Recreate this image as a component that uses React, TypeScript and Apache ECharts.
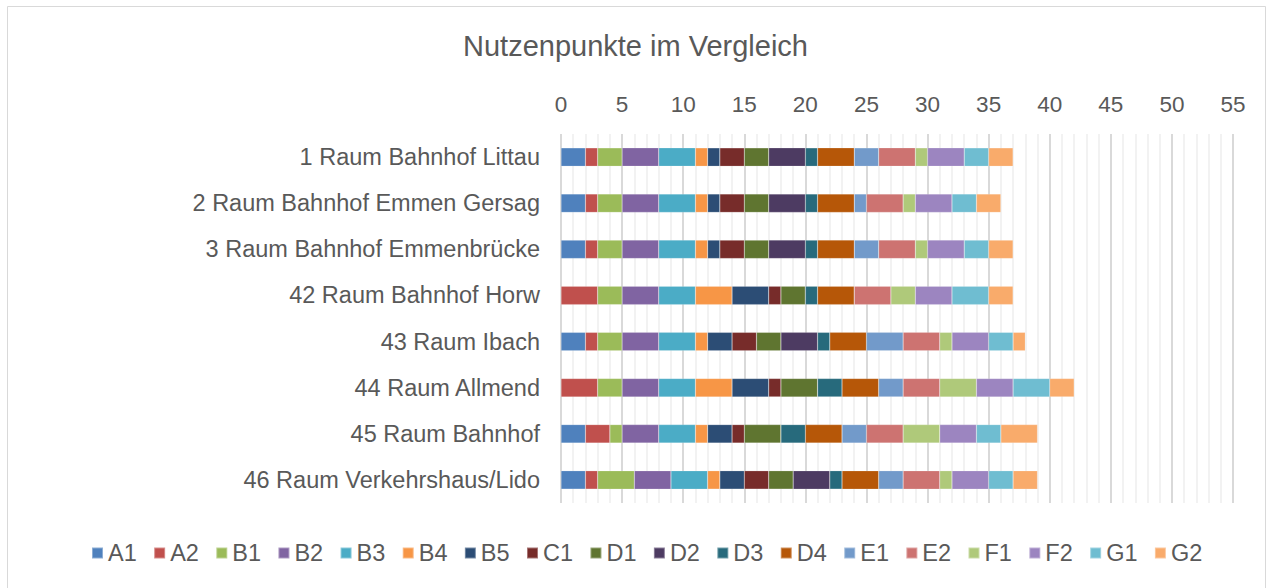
import React, { useEffect, useRef } from "react";
import * as echarts from "echarts";

const categories = [
  "1 Raum Bahnhof Littau",
  "2 Raum Bahnhof Emmen Gersag",
  "3 Raum Bahnhof Emmenbrücke",
  "42 Raum Bahnhof Horw",
  "43 Raum Ibach",
  "44 Raum Allmend",
  "45 Raum Bahnhof",
  "46 Raum Verkehrshaus/Lido",
];

const seriesNames = ["A1", "A2", "B1", "B2", "B3", "B4", "B5", "C1", "D1", "D2", "D3", "D4", "E1", "E2", "F1", "F2", "G1", "G2"];

const A1 = [2, 2, 2, 0, 2, 0, 2, 2];
const A2 = [1, 1, 1, 3, 1, 3, 2, 1];
const B1 = [2, 2, 2, 2, 2, 2, 1, 3];
const B2 = [3, 3, 3, 3, 3, 3, 3, 3];
const B3 = [3, 3, 3, 3, 3, 3, 3, 3];
const B4 = [1, 1, 1, 3, 1, 3, 1, 1];
const B5 = [1, 1, 1, 3, 2, 3, 2, 2];
const C1 = [2, 2, 2, 1, 2, 1, 1, 2];
const D1 = [2, 2, 2, 2, 2, 3, 3, 2];
const D2 = [3, 3, 3, 0, 3, 0, 0, 3];
const D3 = [1, 1, 1, 1, 1, 2, 2, 1];
const D4 = [3, 3, 3, 3, 3, 3, 3, 3];
const E1 = [2, 1, 2, 0, 3, 2, 2, 2];
const E2 = [3, 3, 3, 3, 3, 3, 3, 3];
const F1 = [1, 1, 1, 2, 1, 3, 3, 1];
const F2 = [3, 3, 3, 3, 3, 3, 3, 3];
const G1 = [2, 2, 2, 3, 2, 3, 2, 2];
const G2 = [2, 2, 2, 2, 1, 2, 3, 2];

const seriesValues = [A1, A2, B1, B2, B3, B4, B5, C1, D1, D2, D3, D4, E1, E2, F1, F2, G1, G2];

const colors = [
  "#4F81BD", "#C0504D", "#9BBB59", "#8064A2", "#4BACC6", "#F79646",
  "#2C4D75", "#772C2A", "#5F7530", "#4D3B62", "#276A7C", "#B65708",
  "#729ACA", "#CD7371", "#AFC97A", "#9C85C0", "#6FBDD1", "#F9AB6B",
];

const FONT = "'Liberation Sans', Arial, sans-serif";
const TEXT = "#595959";

export default function App() {
  const ref = useRef<HTMLDivElement>(null);
  useEffect(() => {
    if (!ref.current) return;
    const chart = echarts.init(ref.current, undefined, { renderer: "svg" });
    chart.setOption({
      animation: false,
      color: colors,
      textStyle: { fontFamily: FONT },
      title: {
        text: "Nutzenpunkte im Vergleich",
        left: "center",
        top: 26,
        textStyle: { fontFamily: FONT, fontSize: 29, fontWeight: "normal", color: TEXT },
      },
      graphic: [
        {
          type: "rect",
          shape: { x: 7.5, y: 6.5, width: 1258, height: 600 },
          style: { fill: "none", stroke: "#d9d9d9", lineWidth: 1 },
          silent: true,
          z: -1,
        },
      ],
      legend: {
        data: seriesNames,
        bottom: 18,
        left: 86,
        itemWidth: 11,
        itemHeight: 11,
        itemGap: 16.4,
        icon: "rect",
        textStyle: { fontFamily: FONT, fontSize: 23.5, color: TEXT },
      },
      grid: { left: 561, right: 38, top: 134, bottom: 85, containLabel: false },
      xAxis: {
        type: "value",
        position: "top",
        min: 0,
        max: 55,
        interval: 5,
        axisLine: { show: false },
        axisTick: { show: false },
        axisLabel: { fontFamily: FONT, fontSize: 22.5, color: TEXT, margin: 18 },
        splitLine: { show: true, lineStyle: { color: "#d9d9d9", width: 2 } },
        minorTick: { show: false, splitNumber: 5 },
        minorSplitLine: { show: true, lineStyle: { color: "#eeeeee", width: 1.5 } },
      },
      yAxis: {
        type: "category",
        data: categories,
        inverse: true,
        axisLine: { show: false },
        axisTick: { show: false },
        axisLabel: { fontFamily: FONT, fontSize: 23.5, color: TEXT, margin: 21 },
      },
      series: seriesNames.map((name, i) => ({
        name,
        type: "bar",
        stack: "total",
        barWidth: "40%",
        data: seriesValues[i],
        itemStyle: { borderColor: "rgba(255,255,255,0.35)", borderWidth: 0.5 },
      })),
    });
    return () => chart.dispose();
  }, []);
  return (
    <div
      ref={ref}
      style={{ position: "absolute", left: 0, top: 0, width: 1271, height: 588, background: "#fff" }}
    />
  );
}
